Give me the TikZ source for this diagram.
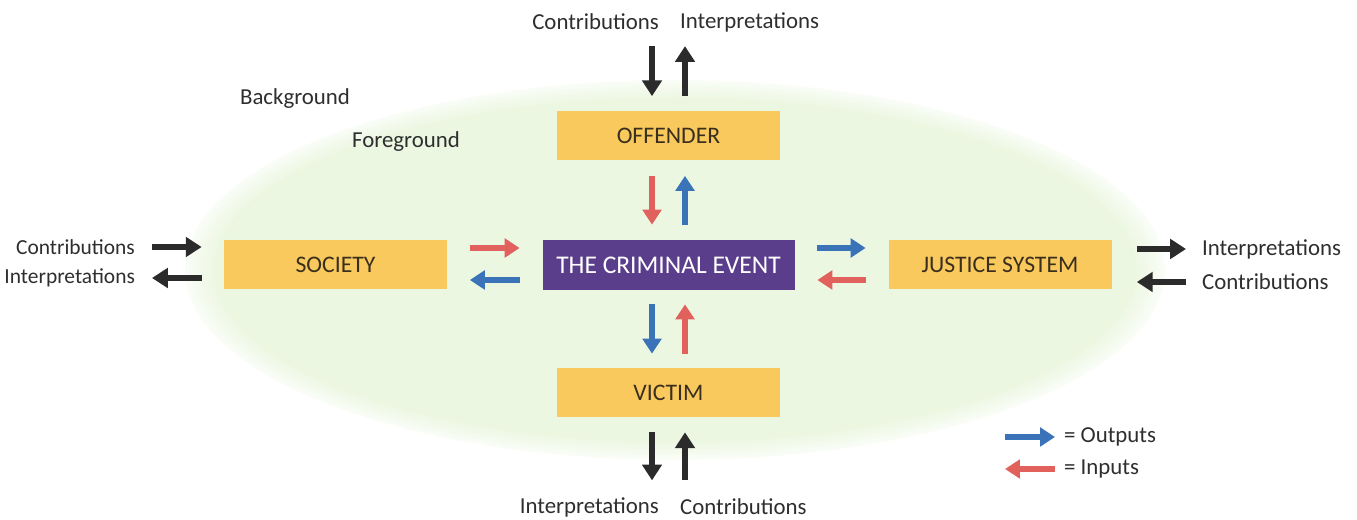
\documentclass[tikz,border=0pt]{standalone}
\usepackage{fontspec}
\setmainfont{Carlito}
\usepackage{tikz}
\usetikzlibrary{
	arrows.meta,
	positioning,
	calc
}
\definecolor{FieldGreen}{HTML}{ECF7E2}
\definecolor{BoxYellow}{HTML}{F9C95E}
\definecolor{BoxInk}{HTML}{3A2F1C}
\definecolor{EventPurple}{HTML}{5A3E8C}
\definecolor{OutputBlue}{HTML}{3B73B9}
\definecolor{InputRed}{HTML}{E1615D}
\definecolor{ArrowInk}{HTML}{2B2B2B}
\definecolor{LabelInk}{HTML}{2E2E2E}

\begin{document}
\begin{tikzpicture}[
 font=\fontsize{13}{15}\selectfont,
 actor/.style={fill=BoxYellow,minimum width=4.46cm,minimum height=.98cm,text=BoxInk,
   font=\fontsize{13.5}{15}\selectfont},
 eventbox/.style={fill=EventPurple,minimum width=5.04cm,minimum height=1cm,text=white,
   font=\fontsize{14.5}{16}\selectfont},
 tag/.style={text=LabelInk,inner sep=1pt},
 sidetag/.style={tag,font=\fontsize{12.2}{14}\selectfont},
 flow/.style={-{Triangle[length=8.5pt,width=10.5pt]},line width=3.2pt},
 output/.style={flow,draw=OutputBlue},
 input/.style={flow,draw=InputRed},
 exchange/.style={-{Triangle[length=9pt,width=11pt]},line width=3.8pt,draw=ArrowInk},
 clear/.style={shorten <=#1,shorten >=#1}
]
 \useasboundingbox (0,0) rectangle (27.14,10.4);
 % foreground field, soft edge
 \foreach \k in {0,...,7}{
  \pgfmathtruncatemacro\tint{30+10*\k}
  \fill[FieldGreen!\tint!white] (13.5,5.0) ellipse ({9.8-.08*\k} and {3.8-.05*\k});
 }
 \node[tag,anchor=west] (background) at (4.76,8.42) {Background};
 \node[tag,anchor=west] (foreground) at (7.0,7.56) {Foreground};

 \node[eventbox] (event) at (13.37,5.1) {THE CRIMINAL EVENT};
 \node[actor] (offender) at (13.37,7.68) {OFFENDER};
 \node[actor] (victim) at (13.37,2.55) {VICTIM};
 \node[actor] (society) at (6.71,5.1) {SOCIETY};
 \node[actor] (justice) at (20.0,5.1) {JUSTICE SYSTEM};

 % inputs and outputs of the event
 \draw[input,clear=.3cm] ([xshift=-.33cm]offender.south) -- ([xshift=-.33cm]event.north);
 \draw[output,clear=.3cm] ([xshift=.33cm]event.north) -- ([xshift=.33cm]offender.south);
 \draw[output,clear=.28cm] ([xshift=-.33cm]event.south) -- ([xshift=-.33cm]victim.north);
 \draw[input,clear=.28cm] ([xshift=.33cm]victim.north) -- ([xshift=.33cm]event.south);
 \draw[input,clear=.45cm] ([yshift=.34cm]society.east) -- ([yshift=.34cm]event.west);
 \draw[output,clear=.45cm] ([yshift=-.3cm]event.west) -- ([yshift=-.3cm]society.east);
 \draw[output,clear=.45cm] ([yshift=.34cm]event.east) -- ([yshift=.34cm]justice.west);
 \draw[input,clear=.45cm] ([yshift=-.3cm]justice.west) -- ([yshift=-.3cm]event.east);

 % offender side
 \coordinate (offtop) at ([yshift=1.3cm]offender.north);
 \draw[exchange,shorten >=.3cm] ([xshift=-.33cm]offtop) -- ([xshift=-.33cm]offender.north);
 \draw[exchange,shorten <=.3cm] ([xshift=.33cm]offender.north) -- ([xshift=.33cm]offtop);
 \node[tag,anchor=east] (topcontrib) at (13.22,9.96) {Contributions};
 \node[tag,anchor=west] (topinterp) at (13.56,9.96) {Interpretations};

 % victim side
 \coordinate (victimbase) at ([yshift=-1.26cm]victim.south);
 \draw[exchange,shorten <=.3cm] ([xshift=-.33cm]victim.south) -- ([xshift=-.33cm]victimbase);
 \draw[exchange,shorten >=.3cm] ([xshift=.33cm]victimbase) -- ([xshift=.33cm]victim.south);
 \node[tag,anchor=east] (bottominterp) at (13.22,.26) {Interpretations};
 \node[tag,anchor=west] (bottomcontrib) at (13.56,.26) {Contributions};

 % society side
 \node[sidetag,anchor=east] (leftcontrib) at (2.74,5.46) {Contributions};
 \node[sidetag,anchor=east] (leftinterp) at (2.74,4.84) {Interpretations};
 \draw[exchange,shorten <=.3cm,shorten >=.44cm] (leftcontrib.east) -- (leftcontrib.east -| society.west);
 \draw[exchange,shorten <=.44cm,shorten >=.3cm] (leftinterp.east -| society.west) -- (leftinterp.east);

 % justice side
 \node[tag,anchor=west] (rightinterp) at (24.0,5.42) {Interpretations};
 \node[tag,anchor=west] (rightcontrib) at (24.0,4.76) {Contributions};
 \draw[exchange,shorten <=.5cm,shorten >=.28cm] (rightinterp.west -| justice.east) -- (rightinterp.west);
 \draw[exchange,shorten <=.28cm,shorten >=.5cm] (rightcontrib.west) -- (rightcontrib.west -| justice.east);

 % key
 \node[tag,anchor=west] (outkey) at (21.24,1.66) {= Outputs};
 \node[tag,anchor=west] (inkey) at (21.24,1.02) {= Inputs};
 \coordinate (outtail) at ([xshift=-1.14cm]outkey.west);
 \coordinate (intail) at ([xshift=-1.14cm]inkey.west);
 \draw[output,shorten >=.14cm] (outtail) -- (outkey.west);
 \draw[input,shorten <=.14cm] (inkey.west) -- (intail);
\end{tikzpicture}
\end{document}
